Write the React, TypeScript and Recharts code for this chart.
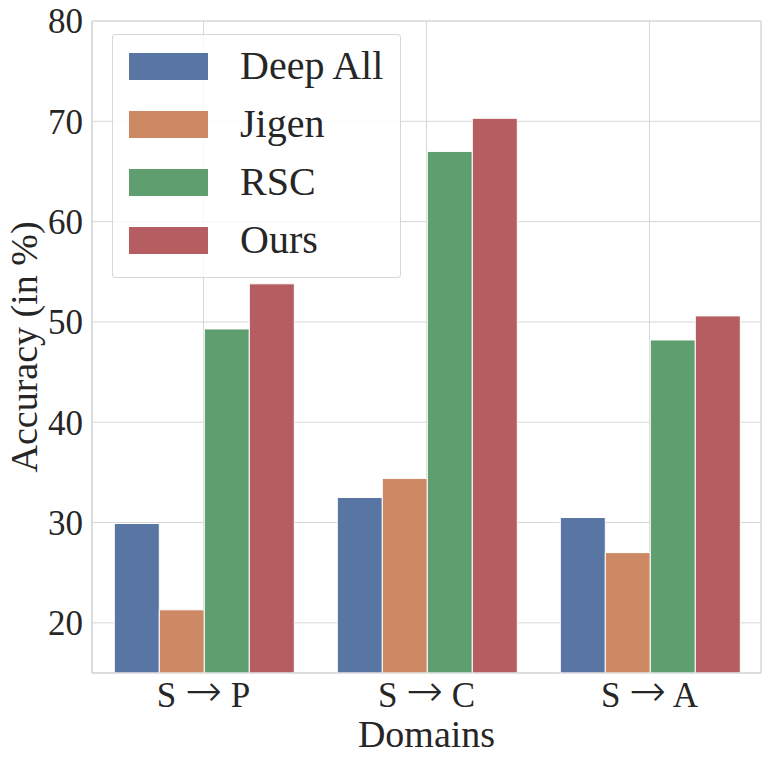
import {
  BarChart,
  Bar,
  XAxis,
  YAxis,
  CartesianGrid,
  Legend,
  ReferenceArea,
} from 'recharts';

const DOMAINS = ['S → P', 'S → C', 'S → A'];
const DEEP_ALL = [29.9, 32.5, 30.5];
const JIGEN = [21.3, 34.4, 27.0];
const RSC = [49.3, 67.0, 48.2];
const OURS = [53.8, 70.3, 50.6];
const Y_TICKS = [20, 30, 40, 50, 60, 70, 80];

const SERIES = [
  { key: 'deepAll', name: 'Deep All', color: '#5875a4' },
  { key: 'jigen', name: 'Jigen', color: '#cc8963' },
  { key: 'rsc', name: 'RSC', color: '#5f9e6e' },
  { key: 'ours', name: 'Ours', color: '#b55d60' },
];

const data = DOMAINS.map((domain, i) => ({
  domain,
  deepAll: DEEP_ALL[i],
  jigen: JIGEN[i],
  rsc: RSC[i],
  ours: OURS[i],
}));

const FONT = '"Liberation Serif", "DejaVu Serif", serif';
const TEXT = '#262626';
const GRID = '#d6d6d6';

// boxed legend like matplotlib's, sits over the top-left of the plot
// (payload order is not the series order in recharts 3, so go by SERIES)
function LegendBox() {
  return (
    <div
      style={{
        width: 289,
        height: 244,
        border: `1px solid ${GRID}`,
        borderRadius: 3,
        background: 'rgba(255,255,255,0.8)',
        boxSizing: 'border-box',
        paddingTop: 2,
      }}
    >
      {SERIES.map((s) => (
        <div key={s.key} style={{ display: 'flex', alignItems: 'center', height: 58 }}>
          <div style={{ width: 79, height: 27, marginLeft: 16, background: s.color }} />
          <span
            style={{
              marginLeft: 32,
              fontFamily: FONT,
              fontSize: 40,
              color: TEXT,
              lineHeight: '58px',
            }}
          >
            {s.name}
          </span>
        </div>
      ))}
    </div>
  );
}

// tick with a long thin arrow; Liberation Serif's own arrow is tiny
function DomainTick({ x, y, payload }: any) {
  const [from, to] = String(payload.value).split(' → ');
  return (
    <text x={x} y={y} dy={26} textAnchor="middle" fontSize={35} fill={TEXT} fontFamily={FONT}>
      {`${from} `}
      <tspan fontFamily="DejaVu Sans" fontWeight={200} fontSize={44} dy={-1}>→</tspan>
      <tspan dy={1}>{` ${to}`}</tspan>
    </text>
  );
}

export default function App() {
  return (
    <div style={{ position: 'absolute', left: 0, top: 0, background: '#fff' }}>
      <BarChart
        width={772}
        height={761}
        data={data}
        margin={{ top: 21, right: 11, bottom: 0, left: 0 }}
        barCategoryGap="10%"
        barGap={0}
      >
        <CartesianGrid stroke={GRID} strokeWidth={1} />
        <XAxis
          dataKey="domain"
          height={88}
          tickSize={0}
          tickMargin={8}
          axisLine={{ stroke: GRID }}
          tick={<DomainTick />}
          label={{
            value: 'Domains',
            position: 'insideBottom',
            offset: 14,
            fontSize: 38,
            fill: TEXT,
            fontFamily: FONT,
          }}
        />
        <YAxis
          width={92}
          domain={[15, 80]}
          ticks={Y_TICKS}
          interval={0}
          tickSize={0}
          tickMargin={9}
          axisLine={{ stroke: GRID }}
          tick={{ fontSize: 35, fill: TEXT, fontFamily: FONT }}
          label={{
            content: () => (
              <text
                x={37}
                y={347}
                transform="rotate(-90, 37, 347)"
                textAnchor="middle"
                fontSize={38}
                fill={TEXT}
                fontFamily={FONT}
              >
                Accuracy (in %)
              </text>
            ),
          }}
        />
        {SERIES.map((s) => (
          <Bar
            key={s.key}
            dataKey={s.key}
            name={s.name}
            fill={s.color}
            stroke="#fff"
            strokeWidth={1}
            isAnimationActive={false}
          />
        ))}
        <ReferenceArea y1={15} y2={80} fill="#fff" fillOpacity={0} stroke={GRID} strokeWidth={1} />
        <Legend
          layout="vertical"
          align="center"
          verticalAlign="middle"
          content={<LegendBox />}
          wrapperStyle={{ position: 'absolute', left: 112, top: 34, width: 289, height: 244 }}
        />
      </BarChart>
    </div>
  );
}
